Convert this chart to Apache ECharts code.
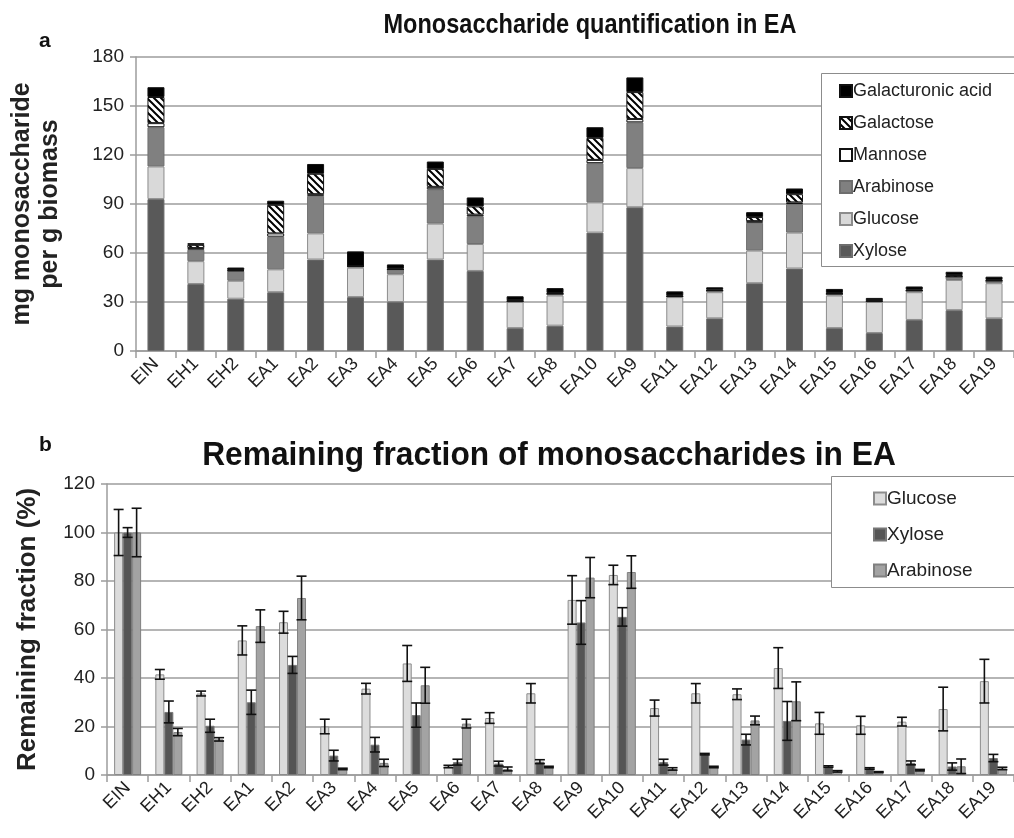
<!DOCTYPE html>
<html>
<head>
<meta charset="utf-8">
<script src="https://cdn.jsdelivr.net/npm/echarts@6/dist/echarts.min.js"></script>
<style>
  html, body { margin: 0; padding: 0; background: #fff; }
  #main { width: 1014px; height: 838px; }
</style>
</head>
<body>
<div id="main"></div>
<script>
// panel a: stacked mg per g biomass
var catsA = ['EIN','EH1','EH2','EA1','EA2','EA3','EA4','EA5','EA6','EA7','EA8','EA10','EA9','EA11','EA12','EA13','EA14','EA15','EA16','EA17','EA18','EA19'];
var xylose    = [93, 41, 32, 36, 56, 33, 30, 56, 49, 14, 15.5, 72.5, 88, 15, 20, 41.5, 50.5, 14, 11, 19, 25, 20];
var glucose   = [20, 14, 11, 14, 16, 18, 17, 22, 16.5, 16, 18.5, 18.5, 24, 18, 16, 20, 22, 20, 19, 17, 18.5, 21.5];
var arabinose = [24, 7, 6, 20, 23, 1, 3, 21, 17, 0.5, 1, 24, 28, 0.5, 1, 17, 17.5, 1, 0.5, 1, 2, 1.5];
var mannose   = [2.5, 1, 0.3, 2, 1, 0, 0, 1.5, 1, 0, 0, 2, 2, 0, 0, 1, 1, 0, 0, 0, 0, 0];
var galactose = [16, 2, 0.3, 17.5, 12.5, 0, 0.5, 11, 5, 0.5, 0.5, 13.5, 16.5, 0.5, 0.5, 2.5, 5, 0.5, 0.5, 0.5, 1, 0.5];
var galA      = [6, 1, 1.5, 2.5, 6, 9, 2.5, 4.5, 5.5, 2.5, 3, 6.5, 9, 2.5, 1.5, 3, 3.5, 2.5, 1.5, 2, 2, 2];

// panel b: remaining fraction (%) with error bars
var catsB = ['EIN','EH1','EH2','EA1','EA2','EA3','EA4','EA5','EA6','EA7','EA8','EA9','EA10','EA11','EA12','EA13','EA14','EA15','EA16','EA17','EA18','EA19'];
var glcFrac = [100, 41.5, 33.6, 55.5, 63, 20, 35.6, 46, 3.5, 23.5, 33.7, 72.2, 82.5, 27.6, 33.7, 33.3, 44.1, 21.3, 20.5, 22, 27.2, 38.7];
var glcErr  = [9.5, 2, 1, 6, 4.5, 3, 2.2, 7.4, 0.5, 2.2, 4, 10, 4, 3.3, 4, 2.2, 8.4, 4.5, 3.7, 1.8, 9, 9];
var xylFrac = [100, 26, 20.3, 30, 45.4, 8, 12.5, 24.7, 5.3, 4.7, 5.5, 62.9, 65.2, 5.3, 8.6, 14.6, 22.3, 3.5, 2.7, 5, 3.5, 7];
var xylErr  = [2, 4.5, 2.7, 5, 3.5, 2.2, 3, 5, 1.2, 1, 0.8, 9, 3.8, 1.2, 0.3, 2.2, 8, 0.3, 0.3, 0.8, 1.5, 1.5];
var araFrac = [100, 17.7, 14.7, 61.4, 73, 2.5, 5, 37, 21.2, 2.5, 3.3, 81.4, 83.7, 2.5, 3.3, 22.5, 30.4, 1.5, 1.2, 2, 3.6, 2.7];
var araErr  = [10, 1.5, 0.7, 6.7, 9, 0.3, 1.5, 7.4, 1.8, 0.8, 0.3, 8.3, 6.7, 0.5, 0.3, 1.8, 8, 0.3, 0.2, 0.3, 3, 0.5];

// hatch for galactose
var hatch = document.createElement('canvas');
hatch.width = 7; hatch.height = 7;
var hc = hatch.getContext('2d');
hc.fillStyle = '#fff';
hc.fillRect(0, 0, 7, 7);
hc.strokeStyle = '#000';
hc.lineWidth = 2;
hc.beginPath();
hc.moveTo(-1, -1); hc.lineTo(8, 8);
hc.moveTo(-8, -1); hc.lineTo(1, 8);
hc.moveTo(6, -1); hc.lineTo(15, 8);
hc.stroke();

var font = 'Liberation Sans, Arial, sans-serif';
var gridColor = '#9c9c9c';

function stackBar(name, data, color, border) {
  return {
    name: name, type: 'bar', stack: 'a', data: data,
    xAxisIndex: 0, yAxisIndex: 0, barWidth: 17,
    itemStyle: { color: color, borderColor: border || '#6e6e6e', borderWidth: 1 }
  };
}

function fracBar(name, data, color, border) {
  return {
    name: name, type: 'bar', data: data,
    xAxisIndex: 1, yAxisIndex: 1, barWidth: 9, barGap: '0%',
    itemStyle: { color: color, borderColor: border, borderWidth: 1 }
  };
}

function errBars(vals, errs, offset) {
  return {
    type: 'custom', xAxisIndex: 1, yAxisIndex: 1, z: 10,
    data: vals.map(function (v, i) { return [i, v, errs[i]]; }),
    renderItem: function (params, api) {
      var i = api.value(0), v = api.value(1), e = api.value(2);
      var x = api.coord([i, v])[0] + offset;
      var yh = api.coord([i, v + e])[1];
      var yl = api.coord([i, Math.max(v - e, 0)])[1];
      var st = { stroke: '#111', lineWidth: 1.6 };
      return {
        type: 'group',
        children: [
          { type: 'line', shape: { x1: x, y1: yh, x2: x, y2: yl }, style: st },
          { type: 'line', shape: { x1: x - 5, y1: yh, x2: x + 5, y2: yh }, style: st },
          { type: 'line', shape: { x1: x - 5, y1: yl, x2: x + 5, y2: yl }, style: st }
        ]
      };
    }
  };
}

function titleText(txt, x, y, size, sx) {
  return {
    type: 'text', x: x, y: y, scaleX: sx, z: 20,
    style: { text: txt, fontFamily: font, fontWeight: 'bold', fontSize: size,
             fill: '#111', textAlign: 'center', textVerticalAlign: 'top' }
  };
}

var myChart = echarts.init(document.getElementById('main'));
var option = {
  backgroundColor: '#fff',
  animation: false,
  title: [
    { text: 'a', left: 34, top: 26, textStyle: { fontFamily: font, fontWeight: 'bold', fontSize: 21, color: '#111' } },
    { text: 'b', left: 34, top: 430, textStyle: { fontFamily: font, fontWeight: 'bold', fontSize: 21, color: '#111' } }
  ],
  graphic: [
    titleText('Monosaccharide quantification in EA', 590, 11, 28, 0.84),
    titleText('Remaining fraction of monosaccharides in EA', 549, 439, 33, 0.96),
    { type: 'rect', shape: { x: 821.5, y: 73.5, width: 220, height: 193 },
      style: { fill: '#fff', stroke: '#8c8c8c', lineWidth: 1 }, z: 5 },
    { type: 'rect', shape: { x: 831.5, y: 476.5, width: 220, height: 111 },
      style: { fill: '#fff', stroke: '#8c8c8c', lineWidth: 1 }, z: 5 }
  ],
  legend: [
    { orient: 'vertical', left: 834, top: 77, itemWidth: 12, itemHeight: 12, itemGap: 14,
      z: 10, icon: 'rect',
      textStyle: { fontFamily: font, fontSize: 18, color: '#222', padding: [0, 0, 0, -4] },
      data: ['Galacturonic acid', 'Galactose', 'Mannose', 'Arabinose', 'Glucose', 'Xylose'] },
    { orient: 'vertical', left: 868, top: 484, itemWidth: 12, itemHeight: 12, itemGap: 17,
      z: 10, icon: 'rect',
      textStyle: { fontFamily: font, fontSize: 19, color: '#222', padding: [0, 0, 0, -4] },
      data: ['Glucose ', 'Xylose ', 'Arabinose '] }
  ],
  grid: [
    { left: 135, top: 57, width: 880, height: 294 },
    { left: 107, top: 484, width: 911, height: 291 }
  ],
  xAxis: [
    { type: 'category', gridIndex: 0, data: catsA,
      axisLine: { lineStyle: { color: gridColor, width: 1.5 } },
      axisTick: { show: true, length: 7, lineStyle: { color: gridColor, width: 1.5 } },
      axisLabel: { rotate: 45, fontFamily: font, fontSize: 18, color: '#222', margin: 10 } },
    { type: 'category', gridIndex: 1, data: catsB,
      axisLine: { lineStyle: { color: gridColor, width: 1.5 } },
      axisTick: { show: true, length: 7, lineStyle: { color: gridColor, width: 1.5 } },
      axisLabel: { rotate: 45, fontFamily: font, fontSize: 18, color: '#222', margin: 10 } }
  ],
  yAxis: [
    { type: 'value', gridIndex: 0, min: 0, max: 180, interval: 30,
      name: 'mg monosaccharide\nper g biomass', nameLocation: 'middle', nameRotate: 90, nameGap: 72,
      nameTextStyle: { fontFamily: font, fontWeight: 'bold', fontSize: 25, lineHeight: 28, color: '#222' },
      axisLine: { show: true, lineStyle: { color: gridColor, width: 1.5 } },
      axisTick: { show: true, length: 6, lineStyle: { color: gridColor, width: 1.5 } },
      splitLine: { lineStyle: { color: gridColor, width: 1.5 } },
      axisLabel: { fontFamily: font, fontSize: 19, color: '#222', margin: 12 } },
    { type: 'value', gridIndex: 1, min: 0, max: 120, interval: 20,
      name: 'Remaining fraction (%)', nameLocation: 'middle', nameRotate: 90, nameGap: 66,
      nameTextStyle: { fontFamily: font, fontWeight: 'bold', fontSize: 26, color: '#222' },
      axisLine: { show: true, lineStyle: { color: gridColor, width: 1.5 } },
      axisTick: { show: true, length: 6, lineStyle: { color: gridColor, width: 1.5 } },
      splitLine: { lineStyle: { color: gridColor, width: 1.5 } },
      axisLabel: { fontFamily: font, fontSize: 19, color: '#222', margin: 12 } }
  ],
  series: [
    stackBar('Xylose', xylose, '#595959'),
    stackBar('Glucose', glucose, '#d9d9d9', '#8c8c8c'),
    stackBar('Arabinose', arabinose, '#808080'),
    stackBar('Mannose', mannose, '#ffffff', '#111'),
    stackBar('Galactose', galactose, { image: hatch, repeat: 'repeat' }, '#111'),
    stackBar('Galacturonic acid', galA, '#000000', '#111'),
    fracBar('Glucose ', glcFrac, '#dcdcdc', '#8c8c8c'),
    fracBar('Xylose ', xylFrac, '#555555', '#777777'),
    fracBar('Arabinose ', araFrac, '#a3a3a3', '#808080'),
    errBars(glcFrac, glcErr, -9),
    errBars(xylFrac, xylErr, 0),
    errBars(araFrac, araErr, 9)
  ]
};
if (option && typeof option === 'object') {
  myChart.setOption(option, true);
}
</script>
</body>
</html>
